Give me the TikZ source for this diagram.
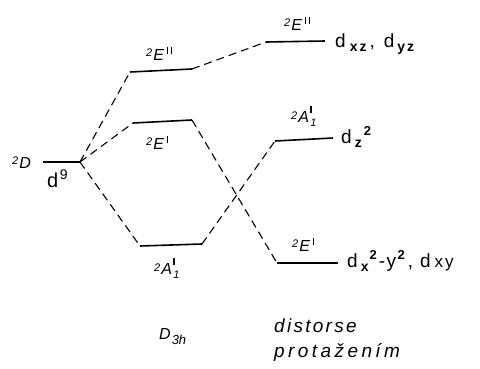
\documentclass[tikz,border=0pt]{standalone}
\usepackage{fontspec}
\setmainfont{Liberation Sans}
\newcommand{\rs}[3]{\raisebox{#1}{\fontsize{#2}{#2}\selectfont #3}}
\newcommand{\pr}{\rule{1.1pt}{7.5pt}}
\newcommand{\Eterm}[1]{\rs{4pt}{11}{2}\kern1pt E\kern3pt\raisebox{6pt}{#1}}
\newcommand{\Aterm}{\rs{3pt}{11}{2}\kern1pt A\kern1.5pt\rlap{\raisebox{9pt}{\pr}}\rs{-4pt}{11}{1}}
\newcommand{\osub}[1]{\raisebox{-4pt}{\fontsize{14}{14}\selectfont\bfseries #1}}
\newcommand{\osup}[1]{\raisebox{8pt}{\fontsize{13}{13}\selectfont\bfseries #1}}
\begin{document}
\begin{tikzpicture}[x=1pt,y=-1pt,
  lvl/.style={line width=1.6pt},
  conn/.style={dash pattern=on 8pt off 5pt, line width=1.1pt},
  term/.style={inner sep=0pt, anchor=base west, font=\fontsize{16}{16}\selectfont\itshape},
  orb/.style={inner sep=0pt, anchor=base west, font=\fontsize{19}{19}\selectfont}]
\useasboundingbox (0,0) rectangle (480,368);
% free-ion level
\coordinate (dL) at (43,162); \coordinate (dR) at (80,162);
% D3h levels
\coordinate (e2L) at (130,72); \coordinate (e2R) at (192,69);
\coordinate (e1L) at (133,123); \coordinate (e1R) at (192,120);
\coordinate (a1L) at (140,246); \coordinate (a1R) at (202,244);
% distorted levels
\coordinate (re2L) at (266,42); \coordinate (re2R) at (325,41);
\coordinate (ra1L) at (275,141); \coordinate (ra1R) at (333,138);
\coordinate (re1L) at (277,263); \coordinate (re1R) at (338,263);
\draw[lvl] (dL) -- (dR);
\draw[lvl] (e2L) -- (e2R);
\draw[lvl] (e1L) -- (e1R);
\draw[lvl] (a1L) -- (a1R);
\draw[lvl] (re2L) -- (re2R);
\draw[lvl] (ra1L) -- (ra1R);
\draw[lvl] (re1L) -- (re1R);
\draw[conn] (dR) -- (e2L);
\draw[conn] (dR) -- (e1L);
\draw[conn] (dR) -- (a1L);
\draw[conn] (e2R) -- (re2L);
\draw[conn] (e1R) -- (re1L);
\draw[conn] (a1R) -- (ra1L);
% term labels
\node[term] (lD) at (12,168) {\rs{4pt}{11}{2}\kern1pt D};
\node[term, font=\fontsize{20}{20}\selectfont] (ld9) at (47,187) {d\kern1.5pt\rs{8pt}{14}{9}};
\node[term] (le2) at (146,60) {\Eterm{\pr\kern2.5pt\pr}};
\node[term] (le1) at (146,149) {\Eterm{\pr}};
\node[term] (la1) at (154,274) {\Aterm};
\node[term] (lre2) at (284,30) {\Eterm{\pr\kern2.5pt\pr}};
\node[term] (lra1) at (291,122) {\Aterm};
\node[term] (lre1) at (292,251) {\Eterm{\pr}};
% orbital labels
\node[orb] (o1) at (335,47) {d\kern4pt\osub{x\kern2pt z}\kern3pt,\kern9pt d\kern3pt\osub{y\kern2pt z}};
\node[orb] (o2) at (341,143) {d\kern3pt\osub{z}\kern2pt\osup{2}};
\node[orb] (o3) at (347,267) {d\kern3pt\osub{x}\kern1pt\osup{2}\kern2pt-\kern1.5pt y\kern1.5pt\osup{2}\kern3pt,\kern7pt d\kern4pt{\fontsize{17}{17}\selectfont x\kern2pt y}};
% bottom captions
\node[term, font=\fontsize{16}{16}\selectfont\itshape] (lD3h) at (159,339) {D\kern1pt\rs{-5pt}{13}{3h}};
\node[term, font=\fontsize{19}{19}\selectfont\itshape\addfontfeatures{LetterSpace=12}] (ld1) at (274,332) {distorse};
\node[term, font=\fontsize{19}{19}\selectfont\itshape\addfontfeatures{LetterSpace=18}] (ld2) at (274,357) {protažením};
\end{tikzpicture}
\end{document}
